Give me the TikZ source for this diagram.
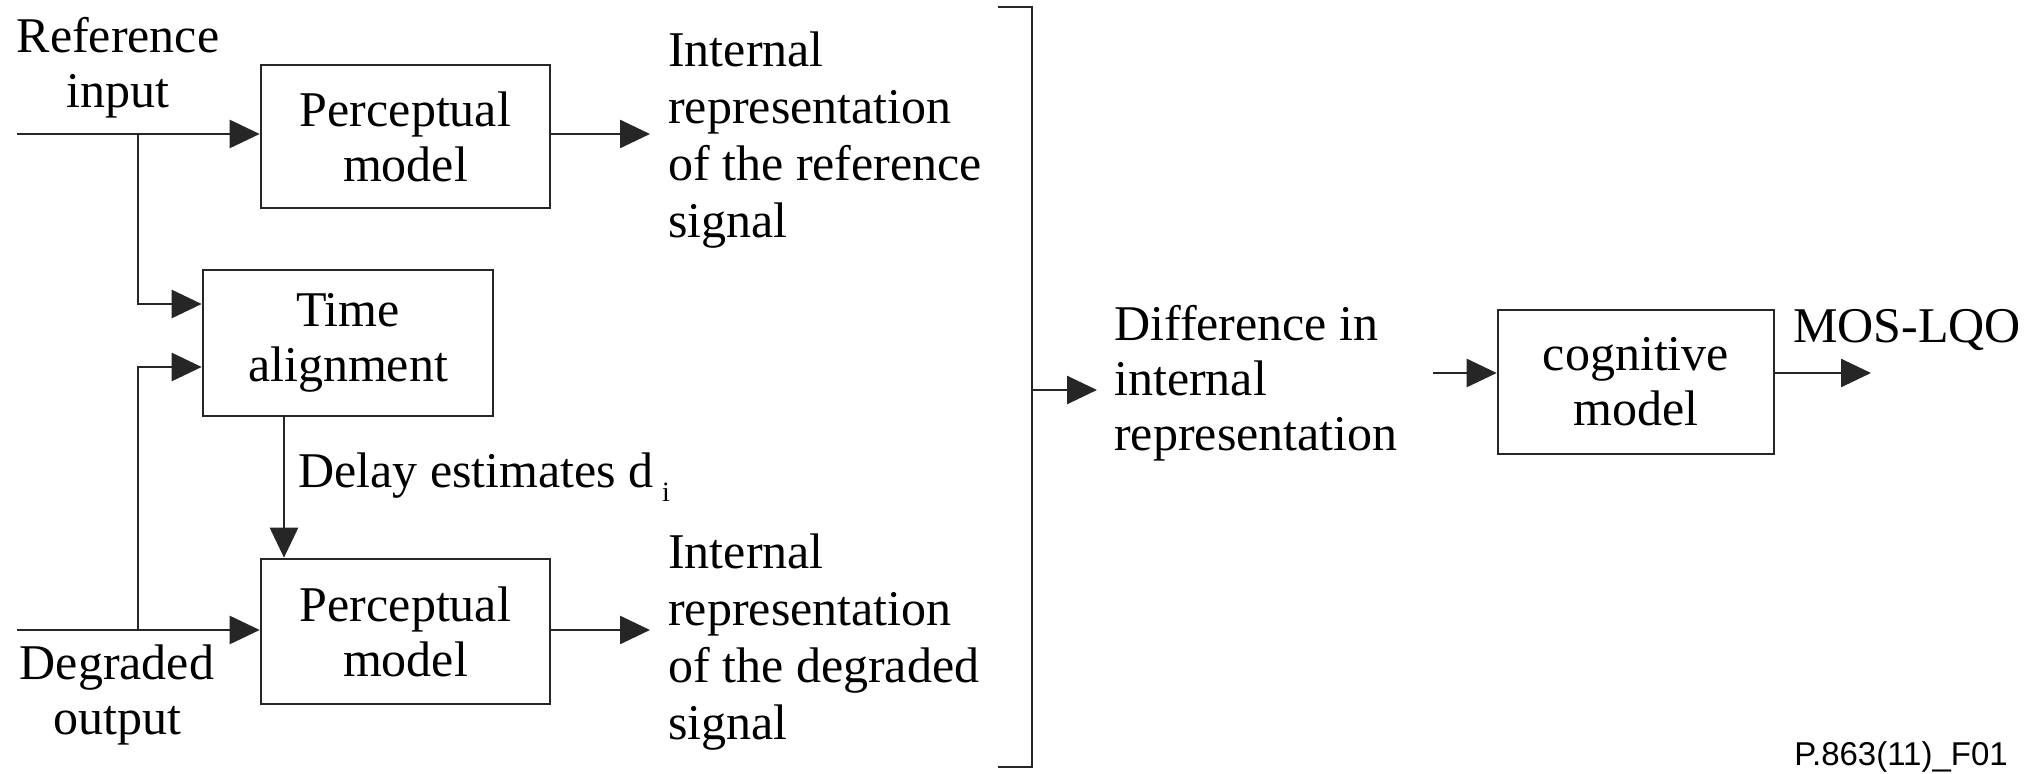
\documentclass[tikz,border=0pt]{standalone}
\usepackage{fontspec}
\setmainfont{Liberation Serif}
\newfontfamily\figsans{Liberation Sans}
\usetikzlibrary{arrows.meta}

\begin{document}
\begin{tikzpicture}[x=0.5pt, y=-0.5pt,
  line width=1.3pt, draw=black!85,
  every node/.style={font=\fontsize{25}{27.5}\selectfont, inner sep=0pt, text=black},
  block/.style={draw=black!85, align=center},
  lbl/.style={align=left},
  arr/.style={draw=black!85, -{Triangle[length=15pt,width=14pt]}},
]
\useasboundingbox (0,0) rectangle (2040,774);

% processing blocks
\node[block, minimum width=144.5pt, minimum height=71.5pt] (pm1) at (405.5,136.5) {Perceptual\\model};
\node[block, minimum width=145pt,   minimum height=73pt]   (ta)  at (348,343)     {Time\\alignment};
\node[block, minimum width=144.5pt, minimum height=72.5pt] (pm2) at (405.5,631.5) {Perceptual\\model};
\node[block, minimum width=138pt,   minimum height=72pt]   (cog) at (1636,382)    {cognitive\\model};

% labels
\node[align=center, anchor=north] (ref) at (118,16)  {Reference\\input};
\node[align=center, anchor=north] (deg) at (117,644) {Degraded\\output};
\node[anchor=base west] (delay) at (297,488)
  {Delay estimates d\,\raisebox{-7pt}{\fontsize{14}{14}\selectfont i}};
\node[lbl, anchor=north west, font=\fontsize{25}{28.5}\selectfont] (irr) at (667,31)
  {Internal\\representation\\of the reference\\signal};
\node[lbl, anchor=north west, font=\fontsize{25}{28.5}\selectfont] (ird) at (667,533)
  {Internal\\representation\\of the degraded\\signal};
\node[lbl, anchor=north west] (diff) at (1113,304) {Difference in\\internal\\representation};
\node[anchor=base west] (mos) at (1792,343) {MOS-LQO};
\node[anchor=base west, font=\figsans\fontsize{16.5}{18}\selectfont] (figid) at (1793,765) {P.863(11)\_F01};

% signal inputs and taps
\coordinate (refin) at (17,134);
\coordinate (degin) at (17,630);
\coordinate (tapA)  at (138,134);
\coordinate (tapB)  at (138,630);
\coordinate (dx)    at (284,0);

\draw[arr] (refin) -- (pm1.west |- refin);
\draw[arr] (degin) -- (pm2.west |- degin);
\draw[arr] (tapA) |- ([yshift=19.5pt]ta.west);
\draw[arr] (tapB) |- ([yshift=-12pt]ta.west);
\draw[arr] (ta.south -| dx) -- (pm2.north -| dx);

% outputs of the perceptual models
\coordinate (out1) at (650,134);
\coordinate (out2) at (650,630);
\draw[arr] (pm1.east |- out1) -- (out1);
\draw[arr] (pm2.east |- out2) -- (out2);

% bracket combining both internal representations
\coordinate (brT) at (998,7);
\coordinate (brB) at (998,767);
\coordinate (brM) at (1032,390);
\coordinate (diffin) at (1097,390);
\draw (brT) -| (brB -| brM) -- (brB);
\draw[arr] (brM) -- (diffin);

% cognitive model
\coordinate (cin)  at (1433,373);
\coordinate (cout) at (1871,373);
\draw[arr] (cin) -- (cog.west |- cin);
\draw[arr] (cog.east |- cin) -- (cout);
\end{tikzpicture}
\end{document}
